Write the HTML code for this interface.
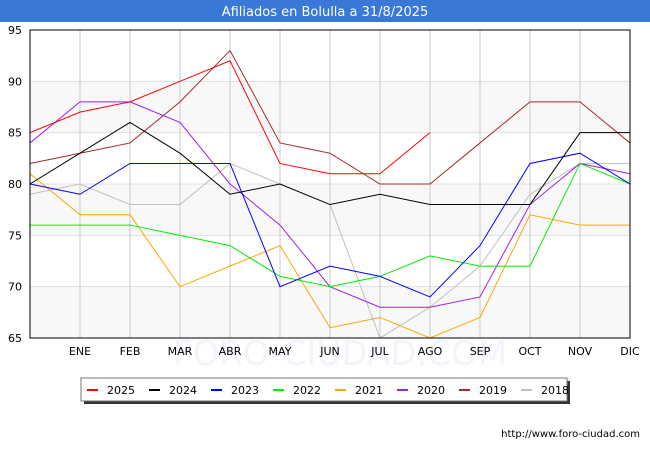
<!DOCTYPE html>
<html><head><meta charset="utf-8"><style>
body{margin:0;width:650px;height:450px;background:#fff;font-family:"DejaVu Sans","Liberation Sans",sans-serif;overflow:hidden;position:relative}
</style></head><body>
<svg width="650" height="450" id="svg" style="position:absolute;left:0;top:0">
<rect x="0" y="0" width="650" height="22" fill="#3a78d8"/>
<text x="325" y="16" text-anchor="middle" font-size="13" fill="#fff">Afiliados en Bolulla a 31/8/2025</text>
<g id="bands"></g>
<text x="340" y="365" text-anchor="middle" font-size="34" fill="#f2f4fb">FORO-CIUDAD.COM</text>
<g id="grid"></g><g id="ylabels"></g><g id="xlabels"></g>
<g id="series"></g>
<rect x="30" y="30" width="600" height="308" fill="none" stroke="#000" stroke-width="1"/>
<rect x="84" y="381" width="486" height="23" fill="#333"/>
<rect x="81" y="378" width="486" height="23" fill="#fff" stroke="#777"/>
<g id="legend"></g>
<text x="640" y="437" text-anchor="end" font-size="10" fill="#000">http://www.foro-ciudad.com</text>
</svg>
<script>
const years=["2025","2024","2023","2022","2021","2020","2019","2018"];
const colors=["#ff0000","#000000","#0000ff","#00ee00","#ffa500","#a020f0","#a52a2a","#c0c0c0"];
const xTicks=["","ENE","FEB","MAR","ABR","MAY","JUN","JUL","AGO","SEP","OCT","NOV","DIC"];
const yTicks=[65,70,75,80,85,90,95];
const s2025=[85,87,88,90,92,82,81,81,85];
const s2024=[80,83,86,83,79,80,78,79,78,78,78,85,85];
const s2023=[80,79,82,82,82,70,72,71,69,74,82,83,80];
const s2022=[76,76,76,75,74,71,70,71,73,72,72,82,80];
const s2021=[81,77,77,70,72,74,66,67,65,67,77,76,76];
const s2020=[84,88,88,86,80,76,70,68,68,69,78,82,81];
const s2019=[82,83,84,88,93,84,83,80,80,84,88,88,84];
const s2018=[79,80,78,78,82,80,78,65,68,72,79,82,82];
const seriesData=[s2025,s2024,s2023,s2022,s2021,s2020,s2019,s2018];
const NS="http://www.w3.org/2000/svg";
const X=i=>30+i*50, Y=v=>338-(v-65)*308/30;
function mk(t,a,p){const e=document.createElementNS(NS,t);for(const k in a)e.setAttribute(k,a[k]);if(p)document.getElementById(p).appendChild(e);return e;}
for(let k=0;k<yTicks.length-1;k+=2){
 const b=mk("rect",{x:30,y:Y(yTicks[k+1]),width:600,height:Y(yTicks[k])-Y(yTicks[k+1]),fill:"#f8f8f8"},"bands");
 
 
}
yTicks.forEach(v=>{
 const l=mk("line",{x1:30,x2:630,y1:Y(v),y2:Y(v),stroke:"#e0e0e0"},"grid");
 
 
 const t=mk("text",{x:22,y:Y(v)+4,"text-anchor":"end","font-size":11},"ylabels");t.textContent=v;
 
 
});
xTicks.forEach((m,i)=>{
 if(i>0){const l=mk("line",{x1:X(i),x2:X(i),y1:30,y2:338,stroke:"#c8c8c8"},"grid");
 
 }
 const t=mk("text",{x:X(i),y:355,"text-anchor":"middle","font-size":11},"xlabels");t.textContent=m;
 
 
});
for(let s=seriesData.length-1;s>=0;s--){
 const p=mk("polyline",{points:seriesData[s].map((v,i)=>X(i)+","+Y(v)).join(" "),fill:"none",stroke:colors[s],"stroke-width":1},"series");
 
 
}
years.forEach((y,i)=>{
 const x=87+i*62;
 const r=mk("rect",{x:x,y:389,width:11,height:2,fill:colors[i]},"legend");
 
 
 const t=mk("text",{x:x+20,y:394,"font-size":11},"legend");t.textContent=y;
 
 
});
</script>
</body></html>
